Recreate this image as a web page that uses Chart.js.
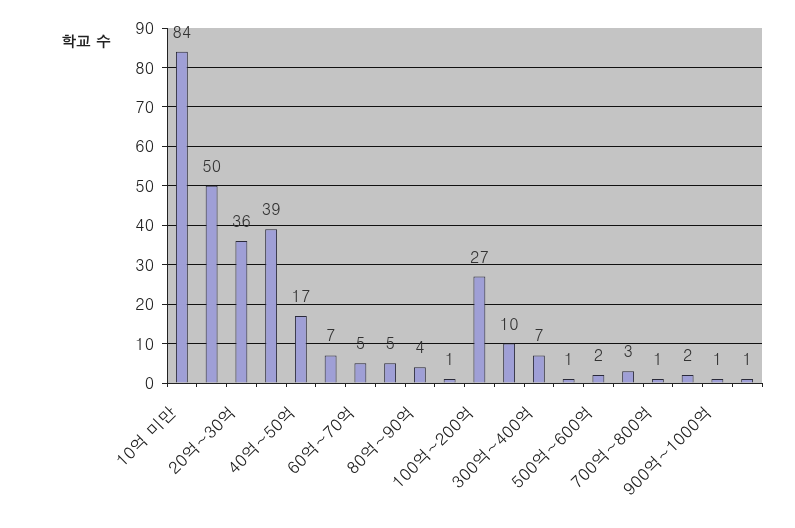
<!DOCTYPE html>
<html>
<head>
<meta charset="utf-8">
<script src="https://cdn.jsdelivr.net/npm/chart.js@4"></script>
<style>
  body { margin: 0; background: #fff; }
  #wrap { width: 795px; height: 528px; }
</style>
</head>
<body>
<div id="wrap"><canvas id="schoolChart"></canvas></div>
<script>
const categories = ['10억 미만', '10억~20억', '20억~30억', '30억~40억', '40억~50억', '50억~60억',
    '60억~70억', '70억~80억', '80억~90억', '90억~100억', '100억~200억', '200억~300억',
    '300억~400억', '400억~500억', '500억~600억', '600억~700억', '700억~800억', '800억~900억',
    '900억~1000억', '1000억 이상'];
const schoolCounts = [84, 50, 36, 39, 17, 7, 5, 5, 4, 1, 27, 10, 7, 1, 2, 3, 1, 2, 1, 1];
const yTitle = '학교 수';

const fontFamily = "Dotum, 'Noto Sans CJK KR', 'DejaVu Sans', sans-serif";

// gray plot area + y title + value labels
const decor = {
    id: 'decor',
    beforeDraw(chart) {
        const { ctx, chartArea: a } = chart;
        ctx.save();
        ctx.fillStyle = '#c4c4c4';
        ctx.fillRect(a.left, a.top, a.right - a.left, a.bottom - a.top);
        ctx.restore();
    },
    afterDatasetsDraw(chart) {
        const { ctx, chartArea: a } = chart;
        ctx.save();
        ctx.font = "bold 15px " + fontFamily;
        ctx.fillStyle = '#222';
        ctx.textAlign = 'left';
        ctx.textBaseline = 'middle';
        ctx.fillText(yTitle, a.left - 106, a.top + 13);

        ctx.font = "16px " + fontFamily;
        ctx.fillStyle = '#333';
        ctx.textAlign = 'center';
        ctx.textBaseline = 'alphabetic';
        chart.getDatasetMeta(0).data.forEach(function (bar, i) {
            ctx.fillText(schoolCounts[i], bar.x, bar.y - 14);
        });
        ctx.restore();
    }
};

new Chart(document.getElementById('schoolChart'), {
    type: 'bar',
    data: {
        labels: categories,
        datasets: [{
            data: schoolCounts,
            backgroundColor: '#9f9fd6',
            borderColor: '#2a2a3a',
            borderWidth: 1,
            barPercentage: 0.4,
            categoryPercentage: 1.0
        }]
    },
    options: {
        responsive: true,
        maintainAspectRatio: false,
        animation: false,
        layout: { padding: { top: 28, right: 33, left: 0, bottom: 0 } },
        plugins: {
            legend: { display: false },
            tooltip: { enabled: false }
        },
        scales: {
            x: {
                offset: true,
                afterFit(scale) { scale.height = 145; },
                grid: {
                    offset: true,
                    drawOnChartArea: false,
                    drawTicks: true,
                    tickLength: 4,
                    color: '#222'
                },
                border: { color: '#222', width: 1 },
                ticks: {
                    autoSkip: false,
                    maxRotation: 45,
                    minRotation: 45,
                    padding: 15,
                    labelOffset: -9,
                    color: '#222',
                    font: { family: fontFamily, size: 17 },
                    callback: function (v, i) { return i % 2 === 0 ? categories[i] : ''; }
                }
            },
            y: {
                min: 0,
                max: 90,
                afterFit(scale) { scale.width = 167; },
                grid: {
                    color: function (c) { return c.tick && c.tick.value === 90 ? 'rgba(0,0,0,0)' : '#111'; },
                    tickLength: 5,
                    tickColor: '#222'
                },
                border: { color: '#222', width: 1 },
                ticks: {
                    stepSize: 10,
                    padding: 8,
                    color: '#222',
                    font: { family: fontFamily, size: 16 }
                }
            }
        }
    },
    plugins: [decor]
});
</script>
</body>
</html>
